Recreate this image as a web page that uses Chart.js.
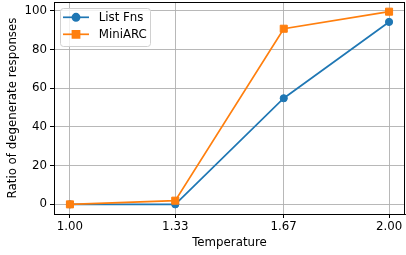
<!DOCTYPE html>
<html>
<head>
<meta charset="utf-8">
<script src="https://cdn.jsdelivr.net/npm/chart.js@4/dist/chart.umd.min.js"></script>
<style>
  html, body { margin: 0; padding: 0; background: #fff; }
</style>
</head>
<body>
<canvas id="myChart" width="406" height="255"></canvas>
<script>
// data
const temperatures = [1.00, 1.33, 1.67, 2.00];
const tempLabels = ['1.00', '1.33', '1.67', '2.00'];
const listFns = [0, 0, 54.8, 94.2];
const miniArc = [0, 1.9, 90.7, 99.5];
const yTicks = [0, 20, 40, 60, 80, 100];

const FONT = { family: 'DejaVu Sans', size: 11.8 };

// axes box on all four sides, like matplotlib spines
const frame = {
    id: 'frame',
    afterDraw(chart) {
        const { ctx, chartArea: a } = chart;
        ctx.save();
        ctx.strokeStyle = '#000';
        ctx.lineWidth = 1;
        ctx.strokeRect(Math.round(a.left) + 0.5, Math.round(a.top) + 0.5,
            Math.round(a.right - a.left) - 1, Math.round(a.bottom - a.top));
        ctx.restore();
    }
};

// legend drawn inside the plot, upper left
const innerLegend = {
    id: 'innerLegend',
    afterDraw(chart) {
        const { ctx, chartArea: a } = chart;
        const x = a.left + 6, y = a.top + 6, w = 90, h = 38;
        ctx.save();
        ctx.beginPath();
        ctx.roundRect(x + 0.5, y + 0.5, w, h, 3);
        ctx.fillStyle = 'rgba(255,255,255,0.8)';
        ctx.fill();
        ctx.strokeStyle = '#d0d0d0';
        ctx.lineWidth = 1;
        ctx.stroke();
        chart.data.datasets.forEach((ds, i) => {
            const cy = a.top + 15.3 + i * 17;
            ctx.strokeStyle = ds.borderColor;
            ctx.lineWidth = ds.borderWidth;
            ctx.beginPath();
            ctx.moveTo(a.left + 9, cy);
            ctx.lineTo(a.left + 35, cy);
            ctx.stroke();
            Chart.helpers.drawPoint(ctx, {
                pointStyle: ds.pointStyle,
                radius: ds.pointRadius,
                borderWidth: 1
            }, a.left + 22, cy);
            ctx.fillStyle = ds.borderColor;
            ctx.fill();
            ctx.fillStyle = '#000';
            ctx.font = FONT.size + 'px "' + FONT.family + '"';
            ctx.textBaseline = 'middle';
            ctx.fillText(ds.label, a.left + 44.7, cy + 0.5);
        });
        ctx.restore();
    }
};

const chartContext = document.getElementById('myChart').getContext('2d');
const myChart = new Chart(chartContext, {
    type: 'line',
    data: {
        datasets: [{
            label: 'List Fns',
            data: temperatures.map((t, i) => ({ x: t, y: listFns[i] })),
            borderColor: '#1f77b4',
            backgroundColor: '#1f77b4',
            pointBackgroundColor: '#1f77b4',
            borderWidth: 1.7,
            pointStyle: 'circle',
            pointRadius: 3.6,
            pointBorderWidth: 1,
            order: 1
        }, {
            label: 'MiniARC',
            data: temperatures.map((t, i) => ({ x: t, y: miniArc[i] })),
            borderColor: '#ff7f0e',
            backgroundColor: '#ff7f0e',
            pointBackgroundColor: '#ff7f0e',
            borderWidth: 1.7,
            pointStyle: 'rect',
            pointRadius: 5,
            pointBorderWidth: 1,
            order: 0
        }]
    },
    options: {
        responsive: false,
        animation: false,
        clip: false,
        layout: { autoPadding: false, padding: { top: 2, right: 1, left: 0, bottom: 0 } },
        plugins: {
            legend: { display: false },
            tooltip: { enabled: false }
        },
        scales: {
            x: {
                type: 'linear',
                min: 0.95,
                max: 2.05,
                afterBuildTicks: (scale) => {
                    scale.ticks = temperatures.map(v => ({ value: v }));
                },
                afterFit: (scale) => {
                    scale.height = 41;
                    scale.paddingLeft = 0;
                    scale.paddingRight = 0;
                },
                ticks: {
                    color: '#000',
                    font: FONT,
                    padding: 2,
                    maxRotation: 0,
                    callback: (v, i) => tempLabels[i]
                },
                grid: {
                    color: '#b0b0b0',
                    lineWidth: 0.9,
                    tickColor: '#000',
                    tickLength: 4,
                    tickWidth: 1
                },
                border: { color: '#000', width: 1 },
                title: {
                    display: true,
                    text: 'Temperature',
                    color: '#000',
                    font: FONT,
                    padding: { top: 0, bottom: 5 }
                }
            },
            y: {
                min: -4.975,
                max: 104.5,
                afterBuildTicks: (scale) => {
                    scale.ticks = yTicks.map(v => ({ value: v }));
                },
                afterFit: (scale) => {
                    scale.width = 54;
                    scale.paddingTop = 0;
                    scale.paddingBottom = 0;
                },
                ticks: {
                    color: '#000',
                    font: FONT,
                    padding: 3
                },
                grid: {
                    color: '#b0b0b0',
                    lineWidth: 0.9,
                    tickColor: '#000',
                    tickLength: 4,
                    tickWidth: 1
                },
                border: { color: '#000', width: 1 },
                title: {
                    display: true,
                    text: 'Ratio of degenerate responses',
                    color: '#000',
                    font: FONT,
                    padding: { top: 6, bottom: 0 }
                }
            }
        }
    },
    plugins: [frame, innerLegend]
});
</script>
</body>
</html>
